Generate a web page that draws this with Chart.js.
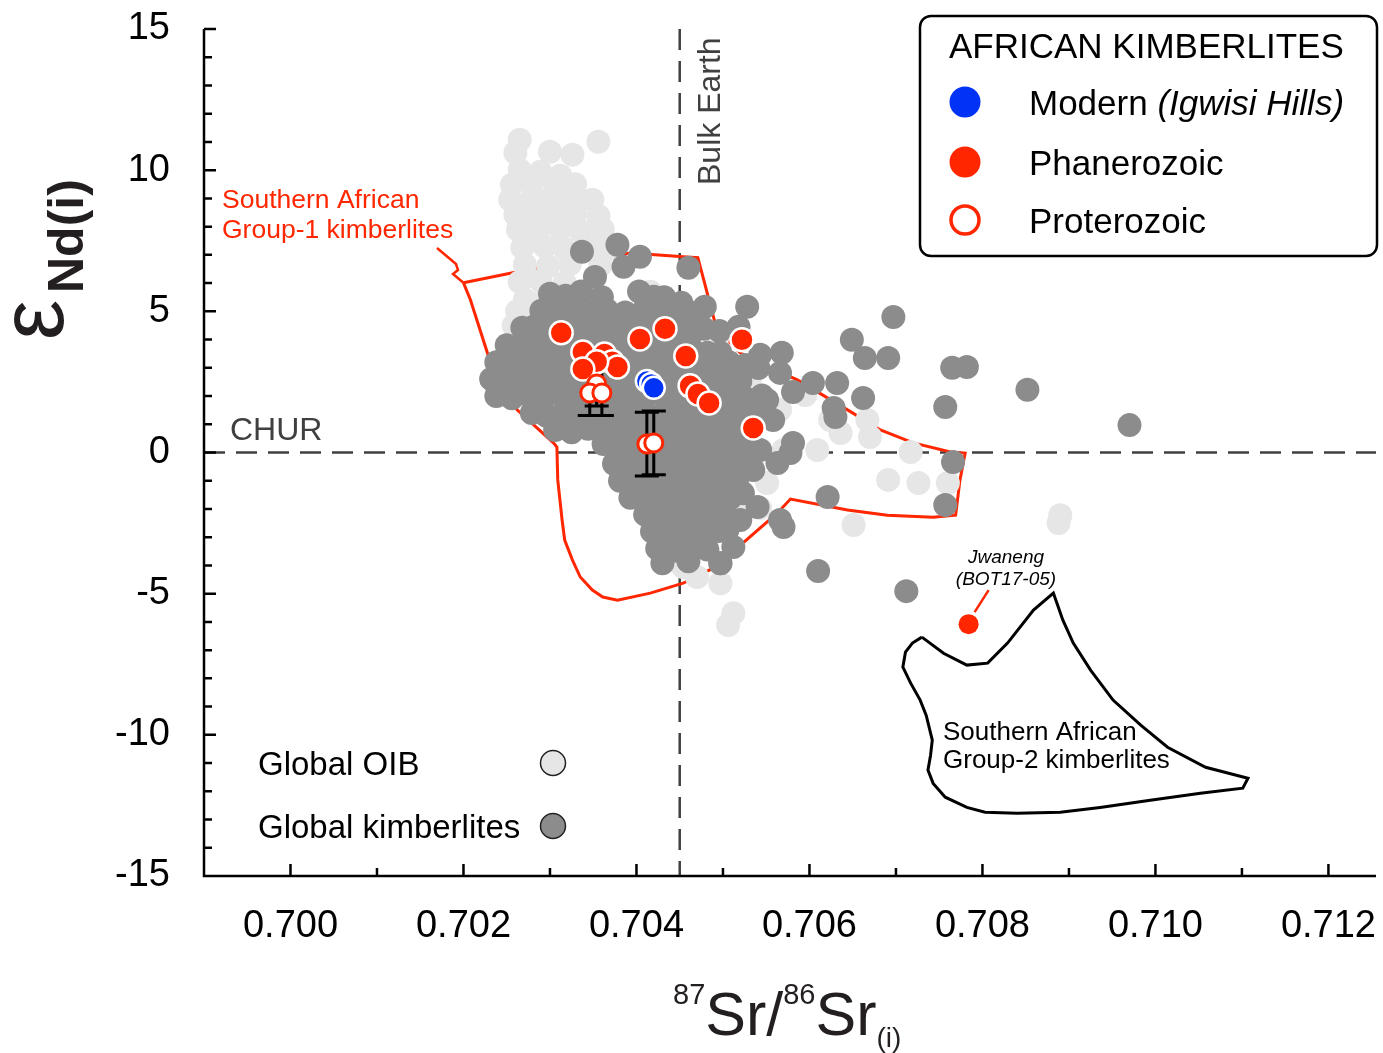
<!DOCTYPE html>
<html>
<head>
<meta charset="utf-8">
<script src="https://cdn.jsdelivr.net/npm/chart.js@4.4.1/dist/chart.umd.min.js"></script>
<style>
  html, body { margin: 0; padding: 0; background: #fff; }
  #wrap { width: 1383px; height: 1053px; }
</style>
</head>
<body>
<div id="wrap"><canvas id="srNd" width="1383" height="1053"></canvas></div>
<script>
// Axis ticks
const srTicks = [0.700, 0.702, 0.704, 0.706, 0.708, 0.710, 0.712];
const srTickLabels = ['0.700', '0.702', '0.704', '0.706', '0.708', '0.710', '0.712'];
const srMinorTicks = [0.701, 0.703, 0.705, 0.707, 0.709, 0.711];
const ndTicks = [-15, -10, -5, 0, 5, 10, 15];
const ndMinorTicks = [-14, -13, -12, -11, -9, -8, -7, -6, -4, -3, -2, -1, 1, 2, 3, 4, 6, 7, 8, 9, 11, 12, 13, 14];

// Reference lines
const bulkEarthSr = 0.7045;
const churNd = 0;

// Global OIB compilation [87Sr/86Sr(i), eNd(i)]
const oibPoints = [
  [0.70265, 11.08], [0.70356, 11.01], [0.70260, 10.62], [0.70300, 10.65], [0.70326, 10.55],
  [0.70265, 10.01], [0.70289, 9.94], [0.70312, 9.80],
  [0.70256, 9.48], [0.70279, 9.52], [0.70306, 9.45], [0.70329, 9.50],
  [0.70254, 8.95], [0.70277, 8.90], [0.70300, 8.98], [0.70323, 8.92], [0.70349, 8.95],
  [0.70260, 8.42], [0.70283, 8.46], [0.70306, 8.40], [0.70329, 8.44], [0.70356, 8.38],
  [0.70263, 7.89], [0.70286, 7.85], [0.70312, 7.92], [0.70335, 7.86], [0.70361, 7.90],
  [0.70268, 7.25], [0.70294, 7.30], [0.70317, 7.22], [0.70346, 7.28], [0.70367, 7.20],
  [0.70271, 6.65], [0.70298, 6.60], [0.70323, 6.68], [0.70358, 6.62],
  [0.70265, 6.04], [0.70289, 6.08], [0.70317, 6.00],
  [0.70271, 5.41], [0.70294, 5.45], [0.70262, 5.00], [0.70258, 4.50], [0.70274, 5.05],
  [0.70416, 5.69], [0.70437, 5.23], [0.70451, 4.63], [0.70427, 4.34],
  [0.70493, 3.99], [0.70508, 2.57], [0.70531, 2.57], [0.70551, 1.61], [0.70566, 1.51],
  [0.70595, 2.04], [0.70609, 0.09], [0.70624, 1.15], [0.70636, 0.69], [0.70667, 1.15],
  [0.70670, 0.55], [0.70717, 0.02], [0.70691, -0.97], [0.70726, -1.08], [0.70760, -1.08],
  [0.70551, -1.08], [0.70651, -2.57], [0.70890, -2.22], [0.70888, -2.50], [0.70570, 0.09],
  [0.70520, -2.14], [0.70543, -1.97], [0.70454, -4.06], [0.70470, -4.41], [0.70497, -4.63],
  [0.70512, -5.69], [0.70506, -6.11]
];

// Global kimberlite compilation
const kimberlitePoints = [
  [0.70337, 7.11], [0.70378, 7.36], [0.70404, 6.93], [0.70385, 6.58], [0.70460, 6.54],
  [0.70352, 6.22], [0.70479, 5.16], [0.70528, 5.16], [0.70518, 4.45], [0.70281, 4.45],
  [0.70254, 3.39], [0.70239, 2.32],
  [0.70300, 5.62], [0.70318, 5.55], [0.70336, 5.70], [0.70360, 5.50], [0.70403, 5.70],
  [0.70420, 5.52], [0.70432, 5.50], [0.70452, 5.30],
  [0.70290, 5.02], [0.70308, 4.95], [0.70327, 5.06], [0.70346, 4.98], [0.70366, 5.04],
  [0.70387, 4.96], [0.70409, 5.05], [0.70428, 4.97], [0.70448, 5.03], [0.70468, 4.94],
  [0.70268, 4.42], [0.70286, 4.35], [0.70305, 4.46], [0.70325, 4.38], [0.70344, 4.44],
  [0.70363, 4.36], [0.70383, 4.45], [0.70402, 4.37], [0.70421, 4.43], [0.70441, 4.35],
  [0.70460, 4.45], [0.70478, 4.38], [0.70496, 4.30],
  [0.70250, 3.80], [0.70268, 3.72], [0.70287, 3.84], [0.70306, 3.76], [0.70326, 3.82],
  [0.70345, 3.74], [0.70364, 3.85], [0.70384, 3.77], [0.70403, 3.83], [0.70423, 3.75],
  [0.70442, 3.84], [0.70462, 3.76], [0.70482, 3.53], [0.70497, 3.53],
  [0.70238, 3.20], [0.70256, 3.12], [0.70275, 3.24], [0.70294, 3.16], [0.70314, 3.22],
  [0.70333, 3.14], [0.70352, 3.25], [0.70372, 3.17], [0.70391, 3.23], [0.70410, 3.15],
  [0.70430, 3.24], [0.70449, 3.16], [0.70468, 3.22], [0.70488, 3.14], [0.70507, 3.20],
  [0.70526, 3.10], [0.70541, 2.99],
  [0.70232, 2.60], [0.70250, 2.52], [0.70269, 2.64], [0.70288, 2.56], [0.70308, 2.62],
  [0.70327, 2.54], [0.70346, 2.65], [0.70366, 2.57], [0.70385, 2.63], [0.70404, 2.55],
  [0.70424, 2.64], [0.70443, 2.56], [0.70462, 2.62], [0.70482, 2.54], [0.70501, 2.60],
  [0.70520, 2.52],
  [0.70238, 2.00], [0.70256, 1.92], [0.70275, 2.04], [0.70294, 1.96], [0.70314, 2.02],
  [0.70333, 1.94], [0.70352, 2.05], [0.70372, 1.97], [0.70391, 2.03], [0.70410, 1.95],
  [0.70430, 2.04], [0.70449, 1.96], [0.70468, 2.02], [0.70488, 1.94], [0.70507, 2.00],
  [0.70526, 1.92], [0.70545, 2.02],
  [0.70279, 1.40], [0.70296, 1.30], [0.70314, 1.36], [0.70333, 1.42], [0.70352, 1.34],
  [0.70372, 1.45], [0.70391, 1.37], [0.70410, 1.43], [0.70430, 1.35], [0.70449, 1.44],
  [0.70468, 1.36], [0.70488, 1.42], [0.70507, 1.34], [0.70526, 1.40], [0.70545, 1.32],
  [0.70306, 0.80], [0.70325, 0.72], [0.70344, 0.84], [0.70364, 0.76], [0.70383, 0.82],
  [0.70402, 0.74], [0.70422, 0.85], [0.70441, 0.77], [0.70460, 0.83], [0.70480, 0.75],
  [0.70499, 0.81], [0.70518, 0.73],
  [0.70362, 0.30], [0.70381, 0.15], [0.70400, 0.24], [0.70420, 0.12], [0.70439, 0.25],
  [0.70458, 0.16], [0.70478, 0.22], [0.70497, 0.14], [0.70516, 0.24], [0.70536, 0.16],
  [0.70374, -0.40], [0.70393, -0.48], [0.70412, -0.36], [0.70432, -0.44], [0.70451, -0.38],
  [0.70470, -0.46], [0.70490, -0.40], [0.70509, -0.48], [0.70528, -0.38],
  [0.70381, -1.00], [0.70400, -1.08], [0.70420, -0.96], [0.70439, -1.04], [0.70458, -0.98],
  [0.70478, -1.06], [0.70497, -1.00], [0.70516, -1.08],
  [0.70393, -1.60], [0.70412, -1.68], [0.70432, -1.56], [0.70451, -1.64], [0.70470, -1.58],
  [0.70490, -1.66], [0.70509, -1.60],
  [0.70410, -2.20], [0.70428, -2.28], [0.70447, -2.16], [0.70466, -2.24], [0.70486, -2.18],
  [0.70505, -2.26],
  [0.70418, -2.80], [0.70437, -2.88], [0.70456, -2.76], [0.70476, -2.84], [0.70495, -2.78],
  [0.70424, -3.40], [0.70443, -3.48], [0.70462, -3.36], [0.70482, -3.44],
  [0.70430, -3.92], [0.70460, -3.85], [0.70497, -3.92],
  [0.70697, 4.80], [0.70649, 3.99], [0.70664, 3.35], [0.70691, 3.35], [0.70765, 3.00],
  [0.70782, 3.03], [0.70852, 2.22], [0.70970, 0.97], [0.70757, 1.61], [0.70662, 1.93],
  [0.70632, 2.46], [0.70604, 2.46], [0.70630, 1.26], [0.70628, 1.58], [0.70581, 2.14],
  [0.70566, 2.82], [0.70568, 3.53], [0.70543, 3.46], [0.70766, -0.34], [0.70757, -1.86],
  [0.70621, -1.58], [0.70610, -4.20], [0.70712, -4.91], [0.70581, 0.34], [0.70578, -0.02],
  [0.70566, -2.39], [0.70570, -2.64], [0.70520, -2.39], [0.70505, -2.75], [0.70512, -3.35],
  [0.70497, -3.92], [0.70540, -1.93], [0.70523, -1.44], [0.70535, -0.62], [0.70563, -0.37],
  [0.70543, 0.09], [0.70558, 1.15], [0.70551, 1.86], [0.70520, 1.05], [0.70512, 2.32]
];

// African kimberlites (this study)
const modernPoints = [[0.70412, 2.53], [0.70417, 2.43], [0.70420, 2.29]];
const phanerozoicPoints = [
  [0.70313, 4.24], [0.70338, 3.56], [0.70363, 3.49], [0.70372, 3.21], [0.70378, 3.03],
  [0.70354, 3.21], [0.70338, 2.96], [0.70404, 4.02], [0.70433, 4.38], [0.70457, 3.42],
  [0.70462, 2.36], [0.70471, 2.07], [0.70484, 1.75], [0.70522, 3.99], [0.70535, 0.87]
];
const proterozoicPoints = [[0.70354, 2.43], [0.70346, 2.11], [0.70360, 2.11], [0.70412, 0.30], [0.70420, 0.34]];
const proterozoicErr = [0.78, 0.80, 0.80, 1.13, 1.13];
const jwanengPoint = [[0.70784, -6.08]];

// Outlines of the southern African kimberlite fields
const group1Outline = [
  [0.70200, 6.01], [0.70274, 6.47], [0.70393, 7.07], [0.70454, 6.93], [0.70471, 6.90],
  [0.70493, 4.34], [0.70520, 3.53], [0.70555, 3.00], [0.70586, 2.57], [0.70644, 1.51],
  [0.70682, 0.80], [0.70720, 0.34], [0.70763, 0.02], [0.70780, -0.02], [0.70774, -0.97],
  [0.70769, -2.22], [0.70743, -2.29], [0.70690, -2.22], [0.70644, -2.04], [0.70578, -1.65],
  [0.70563, -2.14], [0.70491, -4.06], [0.70454, -4.63], [0.70416, -4.98], [0.70378, -5.23],
  [0.70361, -5.12], [0.70349, -4.87], [0.70335, -4.41], [0.70326, -3.81], [0.70317, -3.10],
  [0.70314, -2.39], [0.70309, -0.97], [0.70308, 0.19],
  [0.70304, 0.34], [0.70262, 1.51], [0.70234, 2.92], [0.70208, 5.41], [0.70200, 6.01]
];
const group2Outline = [
  [0.70730, -6.54], [0.70755, -7.11], [0.70782, -7.53], [0.70806, -7.46], [0.70829, -6.75],
  [0.70859, -5.58], [0.70882, -4.98], [0.70893, -5.94], [0.70905, -6.75], [0.70925, -7.71],
  [0.70951, -8.77], [0.70983, -9.66], [0.71014, -10.44], [0.71058, -11.15], [0.71107, -11.54],
  [0.71101, -11.89], [0.71052, -12.07], [0.70994, -12.32], [0.70936, -12.57], [0.70890, -12.74],
  [0.70840, -12.78], [0.70803, -12.74], [0.70782, -12.57], [0.70757, -12.21], [0.70743, -11.72],
  [0.70737, -11.25], [0.70740, -10.72], [0.70742, -10.19], [0.70735, -9.31], [0.70728, -8.77],
  [0.70717, -8.17], [0.70708, -7.60], [0.70711, -7.07], [0.70719, -6.75], [0.70730, -6.54]
];

const RED = '#ff2600';
const BLUE = '#0033f5';
const OIB_GREY = '#e6e6e6';
const KIMB_GREY = '#8c8c8c';
const FONT = '"Liberation Sans", Arial, sans-serif';

const toXY = pts => pts.map(([x, y]) => ({ x, y }));

const overlay = {
  id: 'overlay',
  beforeDatasetsDraw(chart) {
    const { ctx, chartArea: a, scales: { x, y } } = chart;
    ctx.save();
    ctx.strokeStyle = '#404040';
    ctx.lineWidth = 2.5;
    ctx.setLineDash([21, 11]);
    const y0 = y.getPixelForValue(churNd);
    ctx.beginPath(); ctx.moveTo(a.left, y0); ctx.lineTo(a.right, y0); ctx.stroke();
    const x0 = x.getPixelForValue(bulkEarthSr);
    ctx.beginPath(); ctx.moveTo(x0, a.top); ctx.lineTo(x0, a.bottom); ctx.stroke();
    ctx.restore();
  },
  afterDatasetDraw(chart, args) {
    // error bars sit above the grey clouds, below the coloured symbols
    if (chart.data.datasets[args.index].label !== 'Global kimberlites') return;
    const { ctx, scales: { x, y } } = chart;
    ctx.save();
    ctx.strokeStyle = '#000';
    ctx.lineWidth = 3;
    proterozoicPoints.forEach(([sr, nd], i) => {
      const px = x.getPixelForValue(sr);
      const top = y.getPixelForValue(nd + proterozoicErr[i]);
      const bot = y.getPixelForValue(nd - proterozoicErr[i]);
      ctx.beginPath();
      ctx.moveTo(px, top); ctx.lineTo(px, bot);
      ctx.moveTo(px - 12, top); ctx.lineTo(px + 12, top);
      ctx.moveTo(px - 12, bot); ctx.lineTo(px + 12, bot);
      ctx.stroke();
    });
    ctx.restore();
  },
  afterDraw(chart) {
    const { ctx, chartArea: a, scales: { x, y } } = chart;
    ctx.save();

    // axes with inward ticks
    ctx.strokeStyle = '#000';
    ctx.lineWidth = 2.5;
    ctx.beginPath();
    ctx.moveTo(a.left, a.top); ctx.lineTo(a.left, a.bottom); ctx.lineTo(a.right, a.bottom);
    srTicks.forEach(v => { const p = x.getPixelForValue(v); ctx.moveTo(p, a.bottom); ctx.lineTo(p, a.bottom - 12); });
    srMinorTicks.forEach(v => { const p = x.getPixelForValue(v); ctx.moveTo(p, a.bottom); ctx.lineTo(p, a.bottom - 8); });
    ndTicks.forEach(v => { const p = y.getPixelForValue(v); ctx.moveTo(a.left, p); ctx.lineTo(a.left + 12, p); });
    ndMinorTicks.forEach(v => { const p = y.getPixelForValue(v); ctx.moveTo(a.left, p); ctx.lineTo(a.left + 8, p); });
    ctx.stroke();

    // x axis title: 87Sr/86Sr(i)
    ctx.fillStyle = '#231f20';
    ctx.textBaseline = 'alphabetic';
    ctx.textAlign = 'left';
    let cx = 673;
    const part = (txt, size, base, style) => {
      ctx.font = (style || '') + ' ' + size + 'px ' + FONT;
      ctx.fillText(txt, cx, base);
      cx += ctx.measureText(txt).width;
    };
    part('87', 29, 1004);
    part('Sr/', 61, 1035);
    part('86', 29, 1004);
    part('Sr', 61, 1035);
    part('(i)', 28, 1047);

    // y axis title: eNd(i)
    ctx.save();
    ctx.translate(63, 340);
    ctx.rotate(-Math.PI / 2);
    ctx.font = '90px ' + FONT;
    ctx.fillText('\u03b5', 0, 0);
    ctx.restore();
    ctx.save();
    ctx.translate(83, 293);
    ctx.rotate(-Math.PI / 2);
    ctx.font = 'bold 50px ' + FONT;
    ctx.fillText('Nd(i)', 0, 0);
    ctx.restore();

    // reference line labels
    ctx.fillStyle = '#404040';
    ctx.font = '32px ' + FONT;
    ctx.fillText('CHUR', 230, 440);
    ctx.save();
    ctx.translate(720, 185);
    ctx.rotate(-Math.PI / 2);
    ctx.fillText('Bulk Earth', 0, 0);
    ctx.restore();

    // field labels
    ctx.fillStyle = RED;
    ctx.font = '26.5px ' + FONT;
    ctx.fillText('Southern African', 222, 208);
    ctx.fillText('Group-1 kimberlites', 222, 238);
    ctx.strokeStyle = RED;
    ctx.lineWidth = 2.5;
    ctx.beginPath();
    ctx.moveTo(437, 248); ctx.lineTo(456, 264); ctx.lineTo(458, 270); ctx.lineTo(453, 274);
    ctx.lineTo(x.getPixelForValue(group1Outline[0][0]), y.getPixelForValue(group1Outline[0][1]));
    ctx.stroke();

    ctx.fillStyle = '#000';
    ctx.font = '26px ' + FONT;
    ctx.fillText('Southern African', 943, 740);
    ctx.fillText('Group-2 kimberlites', 943, 768);

    // Jwaneng callout
    const jx = x.getPixelForValue(jwanengPoint[0][0]);
    const jy = y.getPixelForValue(jwanengPoint[0][1]);
    ctx.strokeStyle = RED;
    ctx.beginPath(); ctx.moveTo(jx + 20, jy - 34); ctx.lineTo(jx + 6, jy - 12); ctx.stroke();
    ctx.fillStyle = '#000';
    ctx.font = 'italic 19px ' + FONT;
    ctx.textAlign = 'center';
    ctx.fillText('Jwaneng', 1006, 563);
    ctx.fillText('(BOT17-05)', 1006, 585);
    ctx.textAlign = 'left';

    // compilation key, lower left
    ctx.font = '33px ' + FONT;
    ctx.fillStyle = '#000';
    ctx.fillText('Global OIB', 258, 775);
    ctx.fillText('Global kimberlites', 258, 838);
    [[763, OIB_GREY], [826, KIMB_GREY]].forEach(([cy, col]) => {
      ctx.beginPath(); ctx.arc(553, cy, 12.5, 0, Math.PI * 2);
      ctx.fillStyle = col; ctx.fill();
      ctx.strokeStyle = '#222'; ctx.lineWidth = 1.5; ctx.stroke();
    });

    // African kimberlite key
    ctx.beginPath();
    ctx.roundRect(920, 16, 457, 240, 11);
    ctx.fillStyle = '#fff'; ctx.fill();
    ctx.strokeStyle = '#000'; ctx.lineWidth = 2.5; ctx.stroke();
    ctx.fillStyle = '#000';
    ctx.font = '35px ' + FONT;
    ctx.fillText('AFRICAN KIMBERLITES', 949, 58);
    ctx.fillText('Modern ', 1029, 115);
    const mw = ctx.measureText('Modern ').width;
    ctx.font = 'italic 35px ' + FONT;
    ctx.fillText('(Igwisi Hills)', 1029 + mw, 115);
    ctx.font = '35px ' + FONT;
    ctx.fillText('Phanerozoic', 1029, 175);
    ctx.fillText('Proterozoic', 1029, 233);
    ctx.beginPath(); ctx.arc(965, 102, 15.5, 0, Math.PI * 2); ctx.fillStyle = BLUE; ctx.fill();
    ctx.beginPath(); ctx.arc(965, 162, 15.5, 0, Math.PI * 2); ctx.fillStyle = RED; ctx.fill();
    ctx.beginPath(); ctx.arc(965, 220, 14, 0, Math.PI * 2);
    ctx.fillStyle = '#fff'; ctx.fill();
    ctx.strokeStyle = RED; ctx.lineWidth = 3.5; ctx.stroke();

    ctx.restore();
  }
};

const tickFont = { family: FONT, size: 38 };

new Chart(document.getElementById('srNd'), {
  type: 'scatter',
  data: {
    datasets: [
      { label: 'Group-1 field', data: toXY(group1Outline), showLine: true, borderColor: RED,
        borderWidth: 3, pointRadius: 0, fill: false, tension: 0, order: 10 },
      { label: 'Group-2 field', data: toXY(group2Outline), showLine: true, borderColor: '#000',
        borderWidth: 3, pointRadius: 0, fill: false, tension: 0, order: 9 },
      { label: 'Global OIB', data: toXY(oibPoints), backgroundColor: OIB_GREY,
        borderWidth: 0, pointRadius: 12, order: 8 },
      { label: 'Global kimberlites', data: toXY(kimberlitePoints), backgroundColor: KIMB_GREY,
        borderWidth: 0, pointRadius: 12, order: 7 },
      { label: 'Modern (Igwisi Hills)', data: toXY(modernPoints), backgroundColor: BLUE,
        borderColor: '#fff', borderWidth: 2.5, pointRadius: 11, order: 5 },
      { label: 'Phanerozoic', data: toXY(phanerozoicPoints), backgroundColor: RED,
        borderColor: '#fff', borderWidth: 2.5, pointRadius: 11.5, order: 4 },
      { label: 'Proterozoic', data: toXY(proterozoicPoints), backgroundColor: '#fff',
        borderColor: RED, borderWidth: 3, pointRadius: 9, order: 3 },
      { label: 'Jwaneng (BOT17-05)', data: toXY(jwanengPoint), backgroundColor: RED,
        borderWidth: 0, pointRadius: 10, order: 2 }
    ]
  },
  options: {
    responsive: false,
    animation: false,
    events: [],
    layout: { autoPadding: false, padding: { top: 29, right: 7, left: 0, bottom: 0 } },
    plugins: { legend: { display: false }, tooltip: { enabled: false } },
    scales: {
      x: {
        type: 'linear', min: 0.699, max: 0.71255,
        grid: { display: false, drawTicks: false },
        border: { display: false },
        afterBuildTicks: s => { s.ticks = srTicks.map(value => ({ value })); },
        afterFit: s => { s.height = 177; s.paddingLeft = 0; s.paddingRight = 0; },
        ticks: { callback: (v, i) => srTickLabels[i], font: tickFont, color: '#000',
                 padding: 28, maxRotation: 0, autoSkip: false }
      },
      y: {
        type: 'linear', min: -15, max: 15,
        grid: { display: false, drawTicks: false },
        border: { display: false },
        afterBuildTicks: s => { s.ticks = ndTicks.map(value => ({ value })); },
        afterFit: s => { s.width = 204; s.paddingTop = 0; s.paddingBottom = 0; },
        ticks: { callback: v => String(v), font: tickFont, color: '#000', padding: 34, autoSkip: false }
      }
    }
  },
  plugins: [overlay]
});
</script>
</body>
</html>
